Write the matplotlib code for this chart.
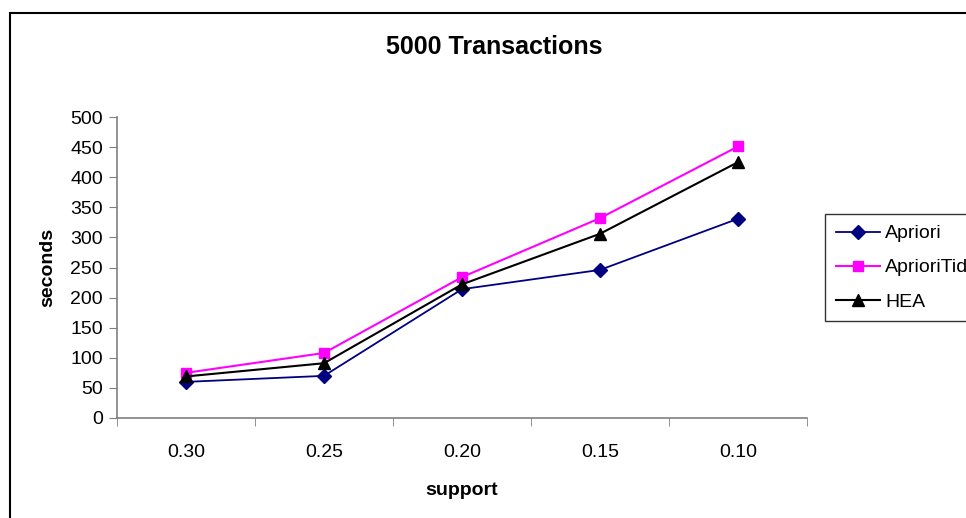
import numpy as np
import matplotlib
matplotlib.use('Agg')
import matplotlib.pyplot as plt
from matplotlib.patches import Rectangle

plt.rcParams['font.family'] = ['Liberation Sans', 'DejaVu Sans']

    # chart data
support = ['0.30', '0.25', '0.20', '0.15', '0.10']
apriori = [60, 70, 214, 246, 331]
apriori_tid = [75, 108, 234, 332, 451]
hea = [69, 91, 222, 306, 425]

fig = plt.figure(figsize=(9.66, 5.18), dpi=100)
ax = fig.add_axes([117/966, 100/518, 690/966, 301/518])

x = np.arange(len(support))
ax.plot(x, apriori, color='#000080', lw=1.3, marker='D', ms=7.5, label='Apriori')
ax.plot(x, apriori_tid, color='#FF00FF', lw=1.5, marker='s', ms=7.5, label='AprioriTid')
ax.plot(x, hea, color='black', lw=1.5, marker='^', ms=9, label='HEA')

ax.set_xlim(-0.5, len(support) - 0.5)
ax.set_ylim(0, 500)
ax.set_yticks(range(0, 501, 50))
ax.set_xticks(x)
ax.set_xticklabels(support)
ax.set_xticks(np.arange(-0.5, len(support)), minor=True)
ax.tick_params(axis='x', which='major', length=0, pad=19, labelsize=14)
ax.tick_params(axis='x', which='minor', length=6, direction='out', color='#808080')
ax.tick_params(axis='y', length=6, direction='out', color='#808080', labelsize=14, pad=4)

for s in ['top', 'right']:
  ax.spines[s].set_visible(False)
for s in ['left', 'bottom']:
  ax.spines[s].set_color('#808080')
  ax.spines[s].set_linewidth(1.2)

ax.set_xlabel('support', fontsize=14, fontweight='bold', labelpad=15)
ax.set_ylabel('seconds', fontsize=14, fontweight='bold', labelpad=10)
fig.text(494/966, 1 - 47/518, '5000 Transactions', fontsize=18, fontweight='bold',
         ha='center', va='center')

leg = fig.legend(loc='upper left', bbox_to_anchor=(825/966, 1 - 214/518),
                 fontsize=14, frameon=True, fancybox=False, borderpad=0.55,
                 labelspacing=0.85, handlelength=2.3, handletextpad=0.25,
                 borderaxespad=0)
leg.get_frame().set_edgecolor('black')
leg.get_frame().set_linewidth(1.0)

    # outer chart border (cut at right and bottom)
fig.patches.append(Rectangle((10/966, -0.1), 1.2, 1.1 - 13/518, transform=fig.transFigure,
                             fill=False, edgecolor='black', lw=1.5))

plt.savefig('out.png', dpi=100)
plt.close()
